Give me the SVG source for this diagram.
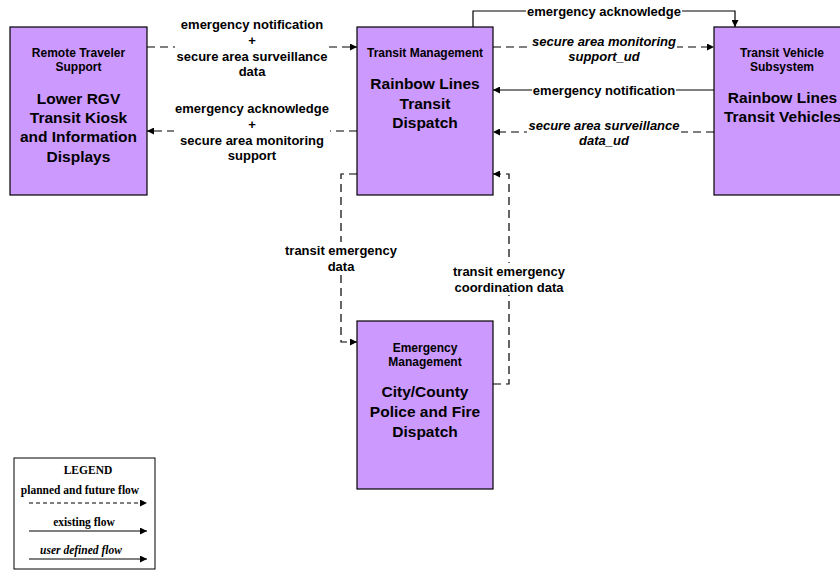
<svg xmlns="http://www.w3.org/2000/svg" width="840" height="571" viewBox="0 0 840 571">
<defs>
<marker id="ah" viewBox="0 0 10 10" refX="10" refY="5" markerWidth="8" markerHeight="7" markerUnits="userSpaceOnUse" orient="auto">
<path d="M0,0 L10,5 L0,10 z" fill="#000"/>
</marker>
<style>
.box{fill:#CC99FF;stroke:#000;stroke-width:1.2}
.t{font-family:"Liberation Sans",Arial,sans-serif;font-weight:bold;text-anchor:middle;fill:#000}
.s{font-size:12px}
.b{font-size:15.5px}
.lbl{font-family:"Liberation Sans",Arial,sans-serif;font-weight:bold;font-size:13px;text-anchor:middle;fill:#000}
.it{font-style:italic}
.bg{fill:#fff}
.dash{fill:none;stroke:#000;stroke-width:1.2;stroke-dasharray:8,5;marker-end:url(#ah)}
.solid{fill:none;stroke:#000;stroke-width:1.2;marker-end:url(#ah)}
.lg{font-family:"Liberation Serif","Times New Roman",serif;font-weight:bold;font-size:11.5px;text-anchor:middle;fill:#000}
</style>
</defs>
<rect width="840" height="571" fill="#fff"/>
<g id="connectors">
<path class="dash" d="M147,47 H357"/>
<path class="dash" d="M357,131 H147"/>
<path class="solid" d="M473,27 V11 H735 V27"/>
<path class="dash" d="M493,47 H714"/>
<path class="solid" d="M714,90 H493"/>
<path class="dash" d="M714,132 H493"/>
<path class="dash" d="M357,174 H341 V342 H357"/>
<path class="dash" d="M493,384 H509 V174 H493"/>
<rect class="bg" x="175" y="16" width="154" height="64"/>
<rect class="bg" x="174" y="100" width="156" height="63"/>
<rect class="bg" x="526" y="4" width="156" height="14"/>
<rect class="bg" x="531" y="33" width="146" height="30"/>
<rect class="bg" x="532" y="83" width="144" height="14"/>
<rect class="bg" x="527" y="117" width="154" height="31"/>
<rect class="bg" x="285" y="242" width="112" height="32"/>
<rect class="bg" x="453" y="263" width="112" height="32"/>
<text class="lbl" x="252" y="29">emergency notification</text>
<text class="lbl" x="252" y="45">+</text>
<text class="lbl" x="252" y="61">secure area surveillance</text>
<text class="lbl" x="252" y="76">data</text>
<text class="lbl" x="252" y="113">emergency acknowledge</text>
<text class="lbl" x="252" y="129">+</text>
<text class="lbl" x="252" y="145">secure area monitoring</text>
<text class="lbl" x="252" y="160">support</text>
<text class="lbl" x="604" y="16">emergency acknowledge</text>
<text class="lbl it" x="604" y="46">secure area monitoring</text>
<text class="lbl it" x="604" y="61">support_ud</text>
<text class="lbl" x="604" y="95">emergency notification</text>
<text class="lbl it" x="604" y="130">secure area surveillance</text>
<text class="lbl it" x="604" y="145">data_ud</text>
<text class="lbl" x="341" y="255">transit emergency</text>
<text class="lbl" x="341" y="271">data</text>
<text class="lbl" x="509" y="276">transit emergency</text>
<text class="lbl" x="509" y="292">coordination data</text>
</g>
<g id="remote-traveler">
<rect class="box" x="10" y="27" width="137" height="168"/>
<text class="t s" x="78.5" y="57">Remote Traveler</text>
<text class="t s" x="78.5" y="71">Support</text>
<text class="t b" x="78.5" y="104">Lower RGV</text>
<text class="t b" x="78.5" y="123">Transit Kiosk</text>
<text class="t b" x="78.5" y="142">and Information</text>
<text class="t b" x="78.5" y="162">Displays</text>
</g>
<g id="transit-management">
<rect class="box" x="357" y="27" width="136" height="168"/>
<text class="t s" x="425" y="57">Transit Management</text>
<text class="t b" x="425" y="89">Rainbow Lines</text>
<text class="t b" x="425" y="109">Transit</text>
<text class="t b" x="425" y="128">Dispatch</text>
</g>
<g id="transit-vehicle">
<rect class="box" x="714" y="27" width="136" height="168"/>
<text class="t s" x="782" y="57">Transit Vehicle</text>
<text class="t s" x="782" y="71">Subsystem</text>
<text class="t b" x="782.5" y="103">Rainbow Lines</text>
<text class="t b" x="782.5" y="122">Transit Vehicles</text>
</g>
<g id="emergency-management">
<rect class="box" x="357" y="321" width="136" height="168"/>
<text class="t s" x="425" y="352">Emergency</text>
<text class="t s" x="425" y="366">Management</text>
<text class="t b" x="425" y="397">City/County</text>
<text class="t b" x="425" y="417">Police and Fire</text>
<text class="t b" x="425" y="437">Dispatch</text>
</g>
<g id="legend">
<rect x="14" y="458" width="141" height="111" fill="#fff" stroke="#000" stroke-width="1"/>
<text class="lg" x="88" y="474">LEGEND</text>
<text class="lg" x="80" y="494">planned and future flow</text>
<path d="M29,503 H147" fill="none" stroke="#000" stroke-width="1" stroke-dasharray="4,3" marker-end="url(#ah)"/>
<text class="lg" x="84" y="526">existing flow</text>
<path d="M29,531 H147" fill="none" stroke="#000" stroke-width="1" marker-end="url(#ah)"/>
<text class="lg" x="81" y="554" font-style="italic">user defined flow</text>
<path d="M29,559 H147" fill="none" stroke="#000" stroke-width="1" marker-end="url(#ah)"/>
</g>
</svg>
